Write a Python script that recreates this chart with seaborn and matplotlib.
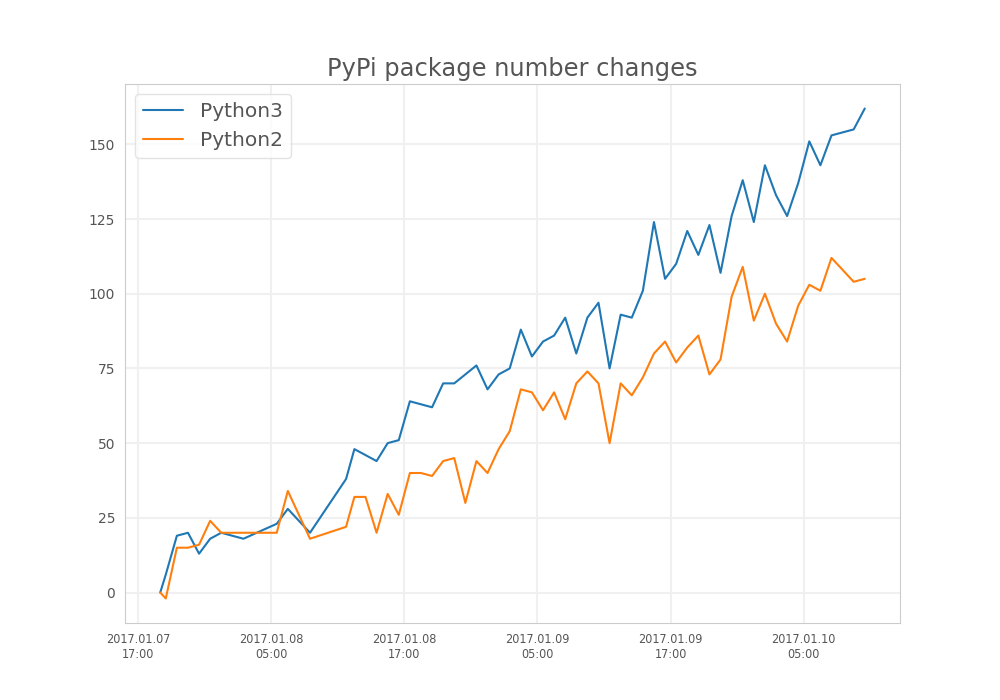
import datetime as dt

import matplotlib

matplotlib.use("Agg")
import matplotlib.dates as mdates
import matplotlib.pyplot as plt
import pandas as pd
import seaborn as sns

# hours after 2017-01-07 17:00 at which the package counts were sampled
hours = [2.0, 2.5, 3.5, 4.5, 5.5, 6.5, 7.5, 9.5, 12.5, 13.5, 15.5, 18.75,
         19.5, 20.5, 21.5, 22.5, 23.5, 24.5, 25.5, 26.5, 27.5, 28.5, 29.5,
         30.5, 31.5, 32.5, 33.5, 34.5, 35.5, 36.5, 37.5, 38.5, 39.5, 40.5,
         41.5, 42.5, 43.5, 44.5, 45.5, 46.5, 47.5, 48.5, 49.5, 50.5, 51.5,
         52.5, 53.5, 54.5, 55.5, 56.5, 57.5, 58.5, 59.5, 60.5, 61.5, 62.5,
         64.5, 65.5]
python3 = [0, 6, 19, 20, 13, 18, 20, 18, 23, 28, 20, 38,
           48, 46, 44, 50, 51, 64, 63, 62, 70, 70, 73,
           76, 68, 73, 75, 88, 79, 84, 86, 92, 80, 92,
           97, 75, 93, 92, 101, 124, 105, 110, 121, 113, 123,
           107, 126, 138, 124, 143, 133, 126, 137, 151, 143, 153,
           155, 162]
python2 = [0, -2, 15, 15, 16, 24, 20, 20, 20, 34, 18, 22,
           32, 32, 20, 33, 26, 40, 40, 39, 44, 45, 30,
           44, 40, 48, 54, 68, 67, 61, 67, 58, 70, 74,
           70, 50, 70, 66, 72, 80, 84, 77, 82, 86, 73,
           78, 99, 109, 91, 100, 90, 84, 96, 103, 101, 112,
           104, 105]

start = dt.datetime(2017, 1, 7, 17, 0)
times = [start + dt.timedelta(hours=h) for h in hours]
df = pd.DataFrame({"time": times, "Python3": python3, "Python2": python2})

sns.set_style("whitegrid", {"axes.edgecolor": "#cccccc", "grid.color": "#f0f0f0"})
grey = "#555555"
plt.rcParams["text.color"] = grey
plt.rcParams["xtick.color"] = grey
plt.rcParams["ytick.color"] = grey

fig, ax = plt.subplots(figsize=(10, 7), dpi=100)
sns.lineplot(data=df, x="time", y="Python3", label="Python3", color="#1f77b4", lw=1.5, ax=ax)
sns.lineplot(data=df, x="time", y="Python2", label="Python2", color="#ff7f0e", lw=1.5, ax=ax)

ax.set_title("PyPi package number changes", fontsize=17.4, color=grey)
ax.set_xlabel("")
ax.set_ylabel("")
ax.xaxis.set_major_locator(mdates.HourLocator(byhour=[5, 17]))
ax.xaxis.set_major_formatter(mdates.DateFormatter("%Y.%m.%d\n%H:%M"))
for lab in ax.get_xticklabels():
    lab.set_fontfamily(["Liberation Sans Narrow", "DejaVu Sans"])
    lab.set_fontstretch("condensed")
    lab.set_fontsize(9)
ax.tick_params(axis="y", labelsize=10)
ax.grid(True, lw=1.5)

leg = ax.legend(loc="upper left", fontsize=14.5, frameon=True)
leg.get_frame().set_edgecolor("#dddddd")

fig.savefig("out.png", dpi=100)
